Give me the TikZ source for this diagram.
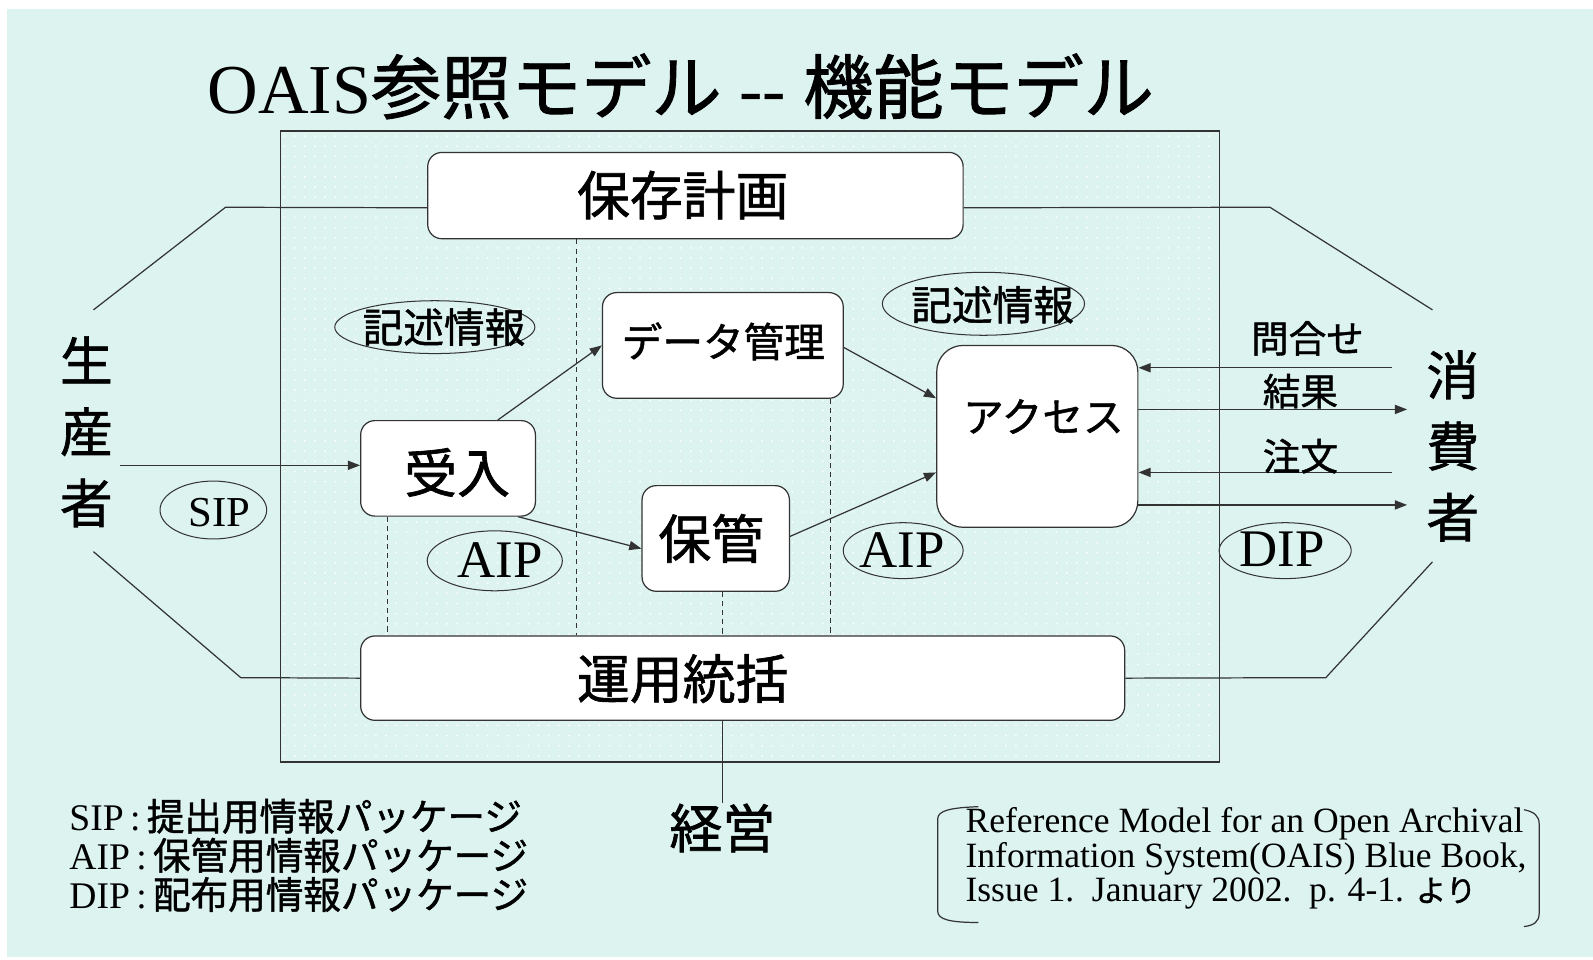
\documentclass[tikz,border=0pt]{standalone}
\usepackage{fontspec}
\setmainfont{Liberation Serif}
\newfontfamily\jp[FakeBold=1.2]{Noto Sans CJK JP}
\usetikzlibrary{shapes.geometric,arrows.meta,patterns.meta,calc}
\definecolor{bgc}{HTML}{DCF3F0}
\definecolor{ln}{HTML}{333333}
\begin{document}
\begin{tikzpicture}[x=0.5pt,y=-0.5pt,
  box/.style={draw=ln, line width=0.6pt, fill=white, rounded corners=7pt, inner sep=0pt},
  ell/.style={draw=ln, line width=0.5pt, ellipse, inner sep=0pt},
  conn/.style={draw=ln, line width=0.6pt},
  arr/.style={conn, -{Triangle[length=6pt,width=4.5pt]}},
  dsh/.style={draw=ln, line width=0.5pt, dash pattern=on 2.5pt off 2pt},
  jbig/.style={font=\jp\fontsize{26}{30}\selectfont, inner sep=0pt},
  jmid/.style={font=\jp\fontsize{20}{24}\selectfont, inner sep=0pt},
  jsmall/.style={font=\jp\fontsize{18.5}{22}\selectfont, inner sep=0pt},
  lat/.style={font=\fontsize{26}{30}\selectfont, inner sep=0pt}
]
\useasboundingbox (0,0) rectangle (1568,944);
\fill[white] (0,0) rectangle (1568,944);
\fill[bgc] (7,9) rectangle (1568,942);

% title
\node[inner sep=0pt, font=\fontsize{34.5}{40}\selectfont] (title) at (670,85)
  {OAIS{\jp 参照モデル}\ -{}-\ {\jp 機能モデル}};

% system boundary
\node[draw=ln, line width=0.6pt, pattern={Dots[distance=5pt,radius=0.5pt]}, pattern color=white,
  minimum width=462pt, minimum height=310.5pt, inner sep=0pt] (sys) at (738,439.5) {};

% coordinates
\coordinate (pl) at (222,204);
\coordinate (pd) at (92,305);
\coordinate (pr) at (1250,204);
\coordinate (prd) at (1410,305);
\coordinate (ol) at (237,667);
\coordinate (old) at (92,543);
\coordinate (or) at (1305,667);
\coordinate (ord) at (1410,553);
\coordinate (d1) at (567,0);
\coordinate (d2) at (381,0);
\coordinate (d3) at (711,0);
\coordinate (d4) at (817,0);
\coordinate (prod) at (118,458);
\coordinate (q) at (1370,362);
\coordinate (r) at (1385,403);
\coordinate (o) at (1370,465);
\coordinate (dp) at (1385,497);

% boxes
\node[box, minimum width=263.5pt, minimum height=42.5pt] (plan) at (684.5,192.5) {};
\node[box, minimum width=376pt, minimum height=41.5pt] (ops) at (731,667.5) {};
\node[box, minimum width=118.5pt, minimum height=52pt] (dm) at (711.5,340) {};
\node[box, minimum width=86pt, minimum height=47pt] (ingest) at (441,461) {};
\node[box, minimum width=72.5pt, minimum height=52pt] (storage) at (704.5,530) {};
\node[box, rounded corners=13pt, minimum width=99pt, minimum height=89.5pt] (access) at (1021,429.5) {};

\node[jbig] (planlbl) at (672,192) {保存計画};
\node[jbig] (opslbl) at (672,668) {運用統括};
\node[jmid] (dmlbl) at (712,336) {データ管理};
\node[jbig] (inglbl) at (450,465) {受入};
\node[jbig] (stolbl) at (700,530) {保管};
\node[jmid] (acclbl) at (1027,410) {アクセス};

% outer lines
\draw[conn] ([yshift=-6pt]plan.west) -- (pl) -- (pd);
\draw[conn] ([yshift=-6pt]plan.east) -- (pr) -- (prd);
\draw[conn] (ops.west) -- (ol) -- (old);
\draw[conn] (ops.east) -- (or) -- (ord);

% dashed
\draw[dsh] (plan.south -| d1) -- (ops.north -| d1);
\draw[dsh] (ingest.south -| d2) -- (ops.north -| d2);
\draw[dsh] (storage.south -| d3) -- (ops.north -| d3);
\draw[dsh] (dm.south -| d4) -- (ops.north -| d4);

% management
\node[jbig] (mgmt) at (711,815) {経営};
\draw[conn] (ops.south -| d3) -- (mgmt.north);

% producer / consumer
\node[inner sep=0pt, align=center, font=\jp\fontsize{26}{35}\selectfont] (producer) at (85,425) {生\\産\\者};
\node[inner sep=0pt, align=center, font=\jp\fontsize{26}{35}\selectfont] (consumer) at (1430,439) {消\\費\\者};

% arrows
\draw[arr] (prod) -- (ingest.west |- prod);
\draw[arr] ([xshift=24.5pt]ingest.north) -- (dm.west);
\draw[arr] ([xshift=34.5pt]ingest.south) -- ([yshift=-5pt]storage.west);
\draw[arr] ([yshift=-1pt]dm.east) -- ([yshift=18.75pt]access.west);
\draw[arr] ([yshift=1pt]storage.east) -- ([yshift=-17.75pt]access.west);
\draw[arr] (q) -- (access.east |- q);
\draw[arr] (access.east |- r) -- (r);
\draw[arr] (o) -- (access.east |- o);
\draw[arr] (access.east |- dp) -- (dp);

\node[jsmall] (qlbl) at (1287,333) {問合せ};
\node[jsmall] (rlbl) at (1280,385) {結果};
\node[jsmall] (olbl) at (1280,449) {注文};

% ellipses
\node[ell, minimum width=98.5pt, minimum height=26pt] (desc1) at (428,322) {};
\node[jmid] (desc1lbl) at (437,322) {記述情報};
\node[ell, minimum width=99.5pt, minimum height=31pt] (desc2) at (968,299) {};
\node[jmid] (desc2lbl) at (977,300) {記述情報};
\node[ell, minimum width=52.5pt, minimum height=28.5pt] (sipe) at (210,502) {};
\node[inner sep=0pt, font=\fontsize{21}{24}\selectfont] (sipl) at (216,505) {SIP};
\node[ell, minimum width=66.5pt, minimum height=29.5pt] (aip1) at (487,552) {};
\node[lat] (aip1l) at (492,551) {AIP};
\node[ell, minimum width=59pt, minimum height=27.5pt] (aip2) at (889,542) {};
\node[lat] (aip2l) at (888,541) {AIP};
\node[ell, minimum width=65pt, minimum height=27.5pt] (dipe) at (1265,542) {};
\node[lat] (dipl) at (1262,541) {DIP};

% legend
\node[anchor=west, align=left, inner sep=0pt, font=\fontsize{18.5}{19.25}\selectfont] (legend) at (68,842)
  {SIP\,:\,{\jp 提出用情報パッケージ}\\AIP\,:\,{\jp 保管用情報パッケージ}\\DIP\,:\,{\jp 配布用情報パッケージ}};

% reference
\node[anchor=west, align=left, inner sep=0pt, font=\fontsize{17.5}{17}\selectfont] (ref) at (950,845)
  {Reference Model for an Open Archival\\Information System(OAIS) Blue Book,\\Issue 1.\ \ January 2002.\ \ p. 4-1. {\jp\fontsize{15}{17}\selectfont より}};
\draw[conn] (963,794) .. controls (935,795) and (923,798) .. (923,806) -- (923,897) .. controls (923,905) and (935,908) .. (963,908);
\draw[conn] (1500,797) .. controls (1510,799) and (1515,803) .. (1515,811) -- (1515,899) .. controls (1515,907) and (1510,911) .. (1500,912);
\end{tikzpicture}
\end{document}
